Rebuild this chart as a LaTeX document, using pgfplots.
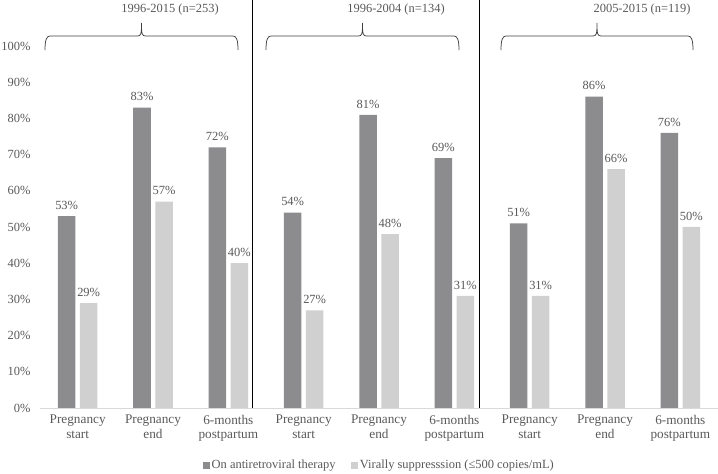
\documentclass[border=0pt]{standalone}
\usepackage{fontspec}
\setmainfont{Liberation Serif}
\usepackage{pgfplots}
\pgfplotsset{compat=1.18}
\definecolor{darkbar}{HTML}{8C8C8E}
\definecolor{lightbar}{HTML}{D0D0D0}
\definecolor{txt}{HTML}{595959}
\definecolor{basecol}{HTML}{D9D9D9}
\definecolor{bracecol}{HTML}{404040}
\newcommand{\fs}{\fontsize{12.5}{14.5}\selectfont}
\newcommand{\fx}{\fontsize{13.3}{14.5}\selectfont}
\begin{document}
\begin{tikzpicture}
\useasboundingbox (0,0) rectangle (718bp,474bp);
\begin{axis}[
  at={(40bp,66bp)}, anchor=south west,
  scale only axis, width=678bp, height=362bp,
  xmin=-0.5, xmax=8.5, ymin=0, ymax=100,
  ybar, bar width=17.5bp,
  axis line style={draw=none},
  major tick length=0pt,
  ytick={0,10,...,100},
  yticklabel={\pgfmathprintnumber{\tick}\%},
  yticklabel style={xshift=-6bp, font=\fs, text=txt},
  xtick={0,...,8},
  xticklabels={{Pregnancy\\start},{Pregnancy\\end},{6-months\\postpartum},{Pregnancy\\start},{Pregnancy\\end},{6-months\\postpartum},{Pregnancy\\start},{Pregnancy\\end},{6-months\\postpartum}},
  xticklabel style={align=center, font=\fx, text=txt, yshift=-3.5bp},
  /pgf/number format/assume math mode=true,
  clip=false,
  nodes near coords={\pgfmathprintnumber{\pgfplotspointmeta}\%},
  nodes near coords style={font=\fs, text=txt, yshift=3bp},
  legend style={at={(0.236,-0.1575)}, anchor=west, draw=none, font=\fs, text=txt,
    /tikz/every even column/.append style={column sep=14bp}},
  legend columns=2,
  legend image code/.code={\fill[#1] (0bp,-3.5bp) rectangle (6.5bp,3.5bp);},
]
\addplot[fill=darkbar, draw=none, bar shift=-11bp] coordinates {
  (0,53) (1,83) (2,72) (3,54) (4,81) (5,69) (6,51) (7,86) (8,76)};
\addlegendentry{On antiretroviral therapy}
\addplot[fill=lightbar, draw=none, bar shift=11bp] coordinates {
  (0,29) (1,57) (2,40) (3,27) (4,48) (5,31) (6,31) (7,66) (8,50)};
\addlegendentry{Virally suppresssion (≤500 copies/mL)}
\end{axis}
\begin{scope}[x=1bp, y=1bp]
\draw[basecol, line width=0.8bp] (40,66) -- (718,66);
\draw[black, line width=0.7bp] (252,474) -- (252,66);
\draw[black, line width=0.7bp] (479,474) -- (479,66);
\draw[bracecol, line width=0.75bp] (45,424) .. controls (45,434) and (46.5,438) .. (50,438) -- (137.5,438) .. controls (141,438) and (141.5,440) .. (141.5,451) .. controls (141.5,440) and (142,438) .. (145.5,438) -- (233,438) .. controls (236.5,438) and (238,434) .. (238,424);
\draw[bracecol, line width=0.75bp] (266,424) .. controls (266,434) and (267.5,438) .. (271,438) -- (358.5,438) .. controls (362,438) and (362.5,440) .. (362.5,451) .. controls (362.5,440) and (363,438) .. (366.5,438) -- (454,438) .. controls (457.5,438) and (459,434) .. (459,424);
\draw[bracecol, line width=0.75bp] (501,424) .. controls (501,434) and (502.5,438) .. (506,438) -- (593,438) .. controls (596.5,438) and (597,440) .. (597,451) .. controls (597,440) and (597.5,438) .. (601,438) -- (688,438) .. controls (691.5,438) and (693,434) .. (693,424);
\node[font=\fs, text=txt] at (170,464) {1996-2015 (n=253)};
\node[font=\fs, text=txt] at (396,464) {1996-2004 (n=134)};
\node[font=\fs, text=txt] at (642,464) {2005-2015 (n=119)};
\end{scope}
\end{tikzpicture}
\end{document}
